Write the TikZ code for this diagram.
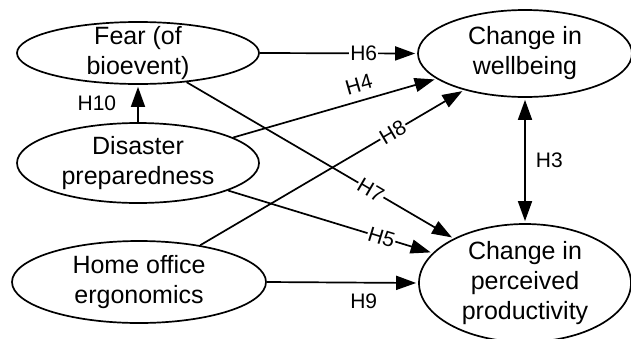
\documentclass[tikz,border=0pt]{standalone}
\usepackage{fontspec}
\setmainfont{Liberation Sans}
\usetikzlibrary{shapes.geometric,arrows.meta}
\begin{document}
\begin{tikzpicture}[x=1pt,y=-1pt,
  var/.style={draw,ellipse,line width=1.7pt,inner xsep=0pt,inner ysep=-15pt,align=center,font=\fontsize{25}{30}\selectfont},
  arr/.style={line width=1.7pt,shorten >=2pt,-{Triangle[length=20pt,width=14pt]}},
  lab/.style={font=\fontsize{21}{25}\selectfont,inner sep=1pt}]
\useasboundingbox (0,0) rectangle (631,338);
\node[var,minimum width=242pt,minimum height=62pt] (fear) at (138,53) {Fear (of\\bioevent)};
\node[var,minimum width=242pt,minimum height=80pt] (dis) at (138,163) {Disaster\\preparedness};
\node[var,minimum width=254pt,minimum height=82pt] (home) at (139,282) {Home office\\ergonomics};
\node[var,minimum width=214pt,minimum height=87pt] (well) at (525,53.5) {Change in\\wellbeing};
\node[var,minimum width=212pt,minimum height=118pt] (prod) at (525,283) {Change in\\perceived\\productivity};
\draw[arr] (fear.east) -- node[lab,fill=white,pos=0.66]{H6} (well.west);
\draw[arr] (dis.15.5) -- node[lab,sloped,above=7pt,pos=0.64]{H4} (well.196.8);
\draw[arr] (home.31) -- node[lab,sloped,fill=white,pos=0.73]{H8} (well.211.3);
\draw[arr] (fear.329) -- node[lab,sloped,fill=white,pos=0.69]{H7} (prod.148.8);
\draw[arr] (dis.343.3) -- node[lab,sloped,fill=white,pos=0.75]{H5} (prod.162);
\draw[arr] (home.east) -- node[lab,below=9pt,pos=0.64]{H9} (prod.west);
\draw[line width=1.7pt,shorten >=2pt,shorten <=2pt,{Triangle[length=20pt,width=14pt]}-{Triangle[length=20pt,width=14pt]}] (well.south) -- node[lab,right=9pt]{H3} (prod.north);
\draw[arr] (dis.north) -- node[lab,left=20pt]{H10} (fear.south);
\end{tikzpicture}
\end{document}
